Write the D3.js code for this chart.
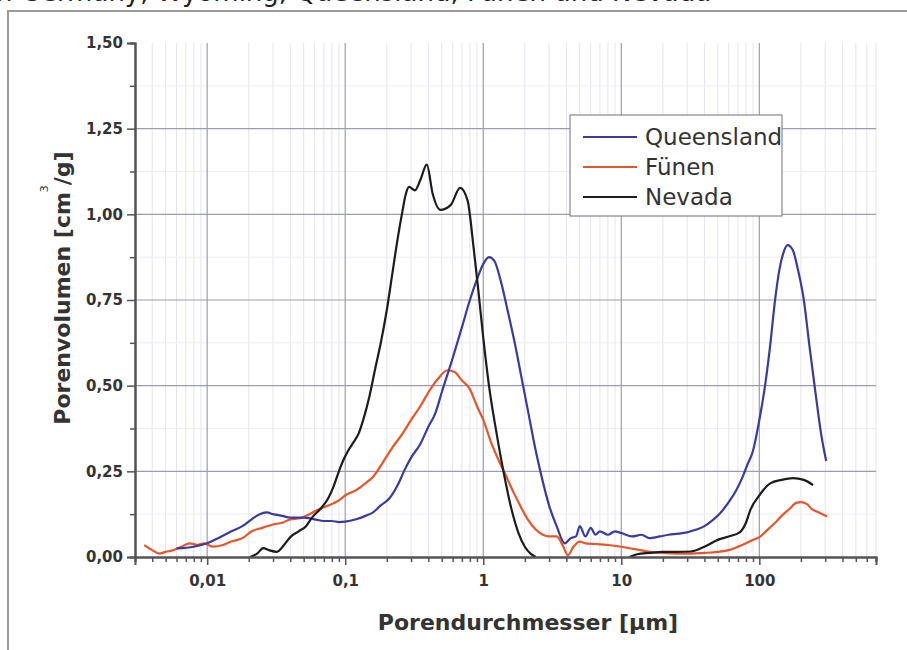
<!DOCTYPE html>
<html>
<head>
<meta charset="utf-8">
<script src="https://cdn.jsdelivr.net/npm/d3@7"></script>
<style>
  body { margin: 0; background: #fff; }
  svg { display: block; font-family: "DejaVu Sans", sans-serif; }
</style>
</head>
<body>
<div id="chart"></div>
<script>
// pore diameter [µm] and pore volume [cm3/g] per sample
const queenslandD = [0.006, 0.008, 0.01, 0.012, 0.015, 0.018, 0.021, 0.024, 0.027, 0.03, 0.035, 0.04, 0.05, 0.06, 0.07, 0.08, 0.09, 0.1, 0.12, 0.14, 0.16, 0.18, 0.21, 0.24, 0.27, 0.3, 0.35, 0.4, 0.45, 0.5, 0.6, 0.7, 0.8, 0.9, 1.0, 1.1, 1.2, 1.35, 1.5, 1.7, 1.9, 2.1, 2.4, 2.7, 3.0, 3.4, 3.9, 4.3, 4.7, 5.0, 5.5, 6.0, 6.5, 7.0, 8, 9, 10, 12, 14, 16, 19, 22, 26, 30, 35, 40, 45, 52, 60, 68, 75, 82, 90, 100, 110, 120, 130, 140, 150, 160, 175, 190, 210, 230, 255, 280, 305];
const queenslandV = [0.025, 0.03, 0.04, 0.055, 0.075, 0.09, 0.11, 0.125, 0.13, 0.125, 0.12, 0.115, 0.115, 0.11, 0.105, 0.105, 0.102, 0.103, 0.11, 0.12, 0.131, 0.15, 0.172, 0.21, 0.255, 0.29, 0.33, 0.38, 0.42, 0.48, 0.58, 0.67, 0.75, 0.81, 0.855, 0.875, 0.865, 0.8, 0.72, 0.62, 0.52, 0.43, 0.31, 0.22, 0.15, 0.09, 0.04, 0.055, 0.06, 0.09, 0.06, 0.085, 0.065, 0.075, 0.065, 0.075, 0.07, 0.06, 0.065, 0.055, 0.06, 0.065, 0.068, 0.072, 0.08, 0.09, 0.105, 0.128, 0.16, 0.195, 0.23, 0.27, 0.31, 0.4, 0.5, 0.62, 0.75, 0.84, 0.89, 0.91, 0.895, 0.84, 0.75, 0.62, 0.48, 0.36, 0.28];

const fuenenD = [0.0035, 0.004, 0.0045, 0.005, 0.0057, 0.0065, 0.0075, 0.0085, 0.0095, 0.011, 0.013, 0.015, 0.018, 0.021, 0.025, 0.03, 0.035, 0.04, 0.047, 0.055, 0.065, 0.075, 0.09, 0.1, 0.12, 0.14, 0.16, 0.19, 0.22, 0.26, 0.3, 0.35, 0.4, 0.47, 0.55, 0.62, 0.7, 0.8, 0.9, 1.0, 1.15, 1.3, 1.45, 1.65, 1.85, 2.1, 2.4, 2.7, 3.0, 3.4, 3.8, 4.1, 4.5, 5.0, 5.5, 6.5, 8, 10, 13, 16, 20, 25, 32, 40, 50, 60, 70, 80, 90, 100, 115, 130, 145, 165, 185, 200, 220, 240, 270, 310];
const fuenenV = [0.035, 0.02, 0.01, 0.015, 0.02, 0.03, 0.04, 0.035, 0.04, 0.03, 0.035, 0.045, 0.055, 0.075, 0.085, 0.095, 0.1, 0.11, 0.113, 0.125, 0.14, 0.15, 0.165, 0.18, 0.195, 0.215, 0.235, 0.28, 0.32, 0.36, 0.4, 0.44, 0.48, 0.52, 0.545, 0.54, 0.515, 0.49, 0.44, 0.4, 0.33, 0.28, 0.24, 0.19, 0.15, 0.11, 0.08, 0.065, 0.06, 0.06, 0.03, 0.005, 0.03, 0.045, 0.04, 0.038, 0.035, 0.03, 0.022, 0.015, 0.012, 0.01, 0.01, 0.012, 0.015, 0.02, 0.03, 0.04, 0.05, 0.058, 0.08, 0.1, 0.12, 0.14, 0.158, 0.16, 0.155, 0.14, 0.13, 0.118];

// null = no curve drawn (Nevada sits on the axis between ~2.5 and ~11 µm)
const nevadaD = [0.0205, 0.023, 0.0255, 0.028, 0.032, 0.036, 0.04, 0.046, 0.052, 0.058, 0.066, 0.075, 0.082, 0.09, 0.097, 0.105, 0.114, 0.125, 0.135, 0.15, 0.165, 0.18, 0.2, 0.22, 0.24, 0.26, 0.275, 0.29, 0.32, 0.35, 0.39, 0.43, 0.49, 0.58, 0.68, 0.77, 0.85, 0.92, 1.0, 1.1, 1.25, 1.4, 1.6, 1.8, 2.0, 2.2, 2.4, 5, 11.5, 13, 16, 20, 25, 32, 40, 50, 60, 72, 80, 86, 100, 120, 145, 175, 210, 245];
const nevadaV = [0.0, 0.01, 0.026, 0.02, 0.015, 0.035, 0.058, 0.075, 0.09, 0.117, 0.14, 0.17, 0.204, 0.25, 0.283, 0.31, 0.333, 0.36, 0.4, 0.47, 0.55, 0.62, 0.72, 0.83, 0.93, 1.01, 1.06, 1.08, 1.07, 1.1, 1.145, 1.06, 1.013, 1.027, 1.077, 1.04, 0.905, 0.78, 0.64, 0.5, 0.36, 0.25, 0.14, 0.07, 0.03, 0.01, 0.0, null, 0.0, 0.008, 0.012, 0.015, 0.015, 0.016, 0.03, 0.05, 0.06, 0.072, 0.1, 0.137, 0.18, 0.215, 0.225, 0.23, 0.225, 0.21];

const seriesNames = ["Queensland", "Fünen", "Nevada"];
const seriesColors = ["#3b3b9e", "#e8552a", "#1c1c1c"];

const xDomain = [0.003, 700];
const xMajor = [0.01, 0.1, 1, 10, 100];
const xLabels = ["0,01", "0,1", "1", "10", "100"];
const yMajor = [0, 0.25, 0.5, 0.75, 1.0, 1.25, 1.5];
const yLabels = ["0,00", "0,25", "0,50", "0,75", "1,00", "1,25", "1,50"];

const W = 907, H = 650;
const margin = {top: 43, left: 135, right: 31, bottom: 93};
const width = W - margin.left - margin.right;
const height = H - margin.top - margin.bottom;

const svg = d3.select("#chart").append("svg")
  .attr("width", W).attr("height", H);

// caption line above, cut off by the crop like in the scan
svg.append("text")
  .attr("x", -4).attr("y", 1)
  .attr("font-size", 26)
  .attr("fill", "#222")
  .text("n Germany, Wyoming, Queensland, Fünen und Nevada");

// outer frame
svg.append("rect")
  .attr("x", 8).attr("y", 11)
  .attr("width", W + 10).attr("height", H + 10)
  .attr("fill", "none")
  .attr("stroke", "#9a9a9a")
  .attr("stroke-width", 2);

const g = svg.append("g")
  .attr("transform", `translate(${margin.left},${margin.top})`);

const x = d3.scaleLog().domain(xDomain).range([0, width]);
const y = d3.scaleLinear().domain([0, 1.5]).range([height, 0]);

const xMinor = x.ticks().filter(t => !xMajor.some(m => Math.abs(m - t) / m < 1e-6));
const yMinor = d3.range(0.125, 1.5, 0.25);

// minor grid
g.append("g").selectAll("line").data(xMinor).join("line")
  .attr("x1", d => x(d)).attr("x2", d => x(d))
  .attr("y1", 0).attr("y2", height)
  .attr("stroke", "#e4e4ef").attr("stroke-width", 1);
g.append("g").selectAll("line").data(yMinor).join("line")
  .attr("x1", 0).attr("x2", width)
  .attr("y1", d => y(d)).attr("y2", d => y(d))
  .attr("stroke", "#ececf3").attr("stroke-width", 1);

// major grid
g.append("g").selectAll("line").data(xMajor).join("line")
  .attr("x1", d => x(d)).attr("x2", d => x(d))
  .attr("y1", 0).attr("y2", height)
  .attr("stroke", "#9c9cb8").attr("stroke-width", 1.2);
g.append("g").selectAll("line").data(yMajor.slice(1, -1)).join("line")
  .attr("x1", 0).attr("x2", width)
  .attr("y1", d => y(d)).attr("y2", d => y(d))
  .attr("stroke", "#9c9cb8").attr("stroke-width", 1.2);

// curves
const line = d3.line()
  .defined(d => d[1] !== null)
  .x(d => x(d[0])).y(d => y(d[1]))
  .curve(d3.curveMonotoneX);

const series = [
  d3.zip(queenslandD, queenslandV),
  d3.zip(fuenenD, fuenenV),
  d3.zip(nevadaD, nevadaV)
];
// draw Fünen first, then Queensland, Nevada on top
[1, 0, 2].forEach(i => {
  g.append("path")
    .datum(series[i])
    .attr("fill", "none")
    .attr("stroke", seriesColors[i])
    .attr("stroke-width", 2.2)
    .attr("stroke-linejoin", "round")
    .attr("d", line);
});

// axes
const axisColor = "#555";
const xAxisMinor = g.append("g").attr("transform", `translate(0,${height})`)
  .call(d3.axisBottom(x).tickValues(xMinor).tickSize(5).tickFormat(""));
const xAxis = g.append("g").attr("transform", `translate(0,${height})`)
  .call(d3.axisBottom(x).tickValues(xMajor).tickSize(8)
    .tickFormat((d, i) => xLabels[i]).tickPadding(10));
const yAxisMinor = g.append("g")
  .call(d3.axisLeft(y).tickValues(yMinor).tickSize(5).tickFormat(""));
const yAxis = g.append("g")
  .call(d3.axisLeft(y).tickValues(yMajor).tickSize(8)
    .tickFormat((d, i) => yLabels[i]).tickPadding(4));

[xAxisMinor, xAxis, yAxisMinor, yAxis].forEach(a => {
  a.select(".domain").attr("stroke", axisColor).attr("stroke-width", 2);
  a.selectAll(".tick line").attr("stroke", axisColor).attr("stroke-width", 1.5);
});
[xAxis, yAxis].forEach(a => {
  a.selectAll(".tick text")
    .attr("font-family", "DejaVu Sans")
    .attr("font-size", 15)
    .attr("font-weight", "bold")
    .attr("fill", "#333");
});

// axis titles
svg.append("text")
  .attr("x", 528).attr("y", 630)
  .attr("text-anchor", "middle")
  .attr("font-size", 22).attr("font-weight", "bold").attr("fill", "#333")
  .text("Porendurchmesser [µm]");

const yt = svg.append("text")
  .attr("transform", "translate(70,288) rotate(-90)")
  .attr("text-anchor", "middle")
  .attr("font-size", 22).attr("font-weight", "bold").attr("fill", "#333");
yt.append("tspan").text("Porenvolumen [cm");
yt.append("tspan").attr("dy", -22).attr("font-size", 11).attr("font-weight", "normal").text("3");
yt.append("tspan").attr("dy", 22).text("/g]");

// legend
const legend = svg.append("g").attr("transform", "translate(570,115)");
legend.append("rect")
  .attr("width", 212).attr("height", 101)
  .attr("fill", "#fff").attr("stroke", "#888").attr("stroke-width", 1.2);
seriesNames.forEach((name, i) => {
  const ly = 22 + i * 30;
  legend.append("line")
    .attr("x1", 13).attr("x2", 67).attr("y1", ly).attr("y2", ly)
    .attr("stroke", seriesColors[i]).attr("stroke-width", 2.2);
  legend.append("text")
    .attr("x", 75).attr("y", ly + 8)
    .attr("font-size", 23).attr("fill", "#333")
    .text(name);
});
</script>
</body>
</html>
